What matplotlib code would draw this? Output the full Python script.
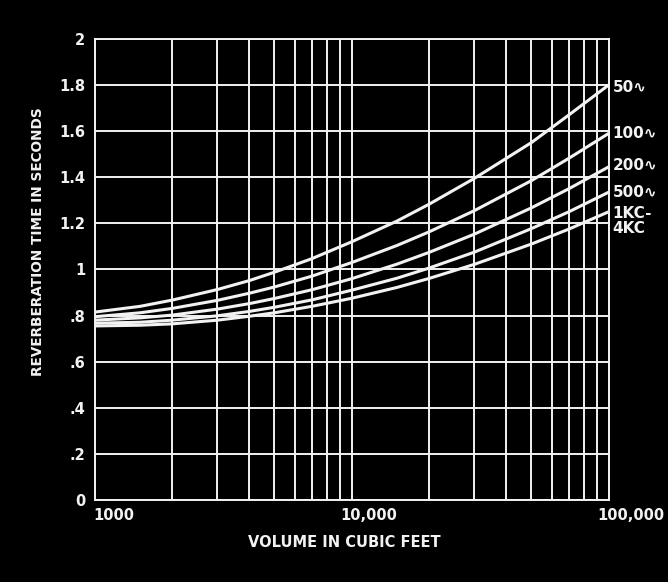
import matplotlib.pyplot as plt
import matplotlib.transforms as mtransforms

# Data
volume = [1000, 1500, 2000, 3000, 4000, 5000, 7000, 10000, 15000, 20000, 30000, 50000, 70000, 100000]
rt_50 = [0.815, 0.84, 0.867, 0.913, 0.952, 0.988, 1.047, 1.12, 1.21, 1.283, 1.395, 1.55, 1.67, 1.80]
rt_100 = [0.795, 0.812, 0.831, 0.866, 0.897, 0.924, 0.971, 1.03, 1.104, 1.163, 1.255, 1.385, 1.482, 1.59]
rt_200 = [0.78, 0.79, 0.802, 0.828, 0.852, 0.874, 0.912, 0.96, 1.023, 1.074, 1.153, 1.267, 1.35, 1.445]
rt_500 = [0.767, 0.771, 0.78, 0.799, 0.818, 0.836, 0.868, 0.91, 0.962, 1.006, 1.075, 1.177, 1.25, 1.335]
rt_1k4k = [0.755, 0.758, 0.764, 0.78, 0.797, 0.812, 0.84, 0.875, 0.922, 0.961, 1.022, 1.11, 1.175, 1.25]

series = [rt_50, rt_100, rt_200, rt_500, rt_1k4k]
curve_labels = ["50\u223f", "100\u223f", "200\u223f", "500\u223f", "1KC-\n4KC"]
label_y = [1.79, 1.59, 1.45, 1.335, 1.21]

y_ticks = [0, 0.2, 0.4, 0.6, 0.8, 1.0, 1.2, 1.4, 1.6, 1.8, 2.0]
y_tick_labels = ["0", ".2", ".4", ".6", ".8", "1", "1.2", "1.4", "1.6", "1.8", "2"]
x_ticks = [1000, 10000, 100000]
x_tick_labels = ["1000", "10,000", "100,000"]

fg = "#f2f2f2"

fig = plt.figure(figsize=(6.68, 5.82), dpi=100, facecolor="black")
ax = fig.add_axes([0.142, 0.141, 0.769, 0.792], facecolor="black")

for s in series:
    ax.plot(volume, s, color=fg, linewidth=2.2, solid_capstyle="round", solid_joinstyle="round")

ax.set_xscale("log")
ax.set_xlim(1000, 100000)
ax.set_ylim(0, 2)

ax.set_yticks(y_ticks)
ax.set_yticklabels(y_tick_labels)
ax.set_xticks(x_ticks)
ax.set_xticklabels(x_tick_labels)

ax.grid(True, which="both", axis="x", color=fg, linewidth=1.4)
ax.grid(True, which="major", axis="y", color=fg, linewidth=1.4)
ax.set_axisbelow(True)

for sp in ax.spines.values():
    sp.set_color(fg)
    sp.set_linewidth(1.4)

ax.tick_params(which="both", length=0, colors=fg, labelsize=10.5)
ax.tick_params(axis="y", pad=7)
ax.tick_params(axis="x", pad=6)
for lab in ax.get_xticklabels() + ax.get_yticklabels():
    lab.set_fontweight("bold")

# x tick labels sit to the right of their grid lines
shifts = [-2, -11, -11]
for lab, dx in zip(ax.get_xticklabels(), shifts):
    lab.set_horizontalalignment("left")
    lab.set_transform(lab.get_transform() + mtransforms.ScaledTranslation(dx / 100, 0, fig.dpi_scale_trans))

ax.set_xlabel("VOLUME IN CUBIC FEET", color=fg, fontsize=10.5, fontweight="bold")
ax.xaxis.set_label_coords(0.485, -0.076)
ax.set_ylabel("REVERBERATION TIME IN SECONDS", color=fg, fontsize=9.8, fontweight="bold")
ax.yaxis.set_label_coords(-0.097, 0.56)

trans = mtransforms.blended_transform_factory(ax.transAxes, ax.transData)
for txt, yy in zip(curve_labels, label_y):
    ax.text(1.008, yy, txt, transform=trans, color=fg, fontsize=11, fontweight="bold",
            ha="left", va="center", linespacing=1.0)

fig.savefig("out.png", dpi=100, facecolor="black")
